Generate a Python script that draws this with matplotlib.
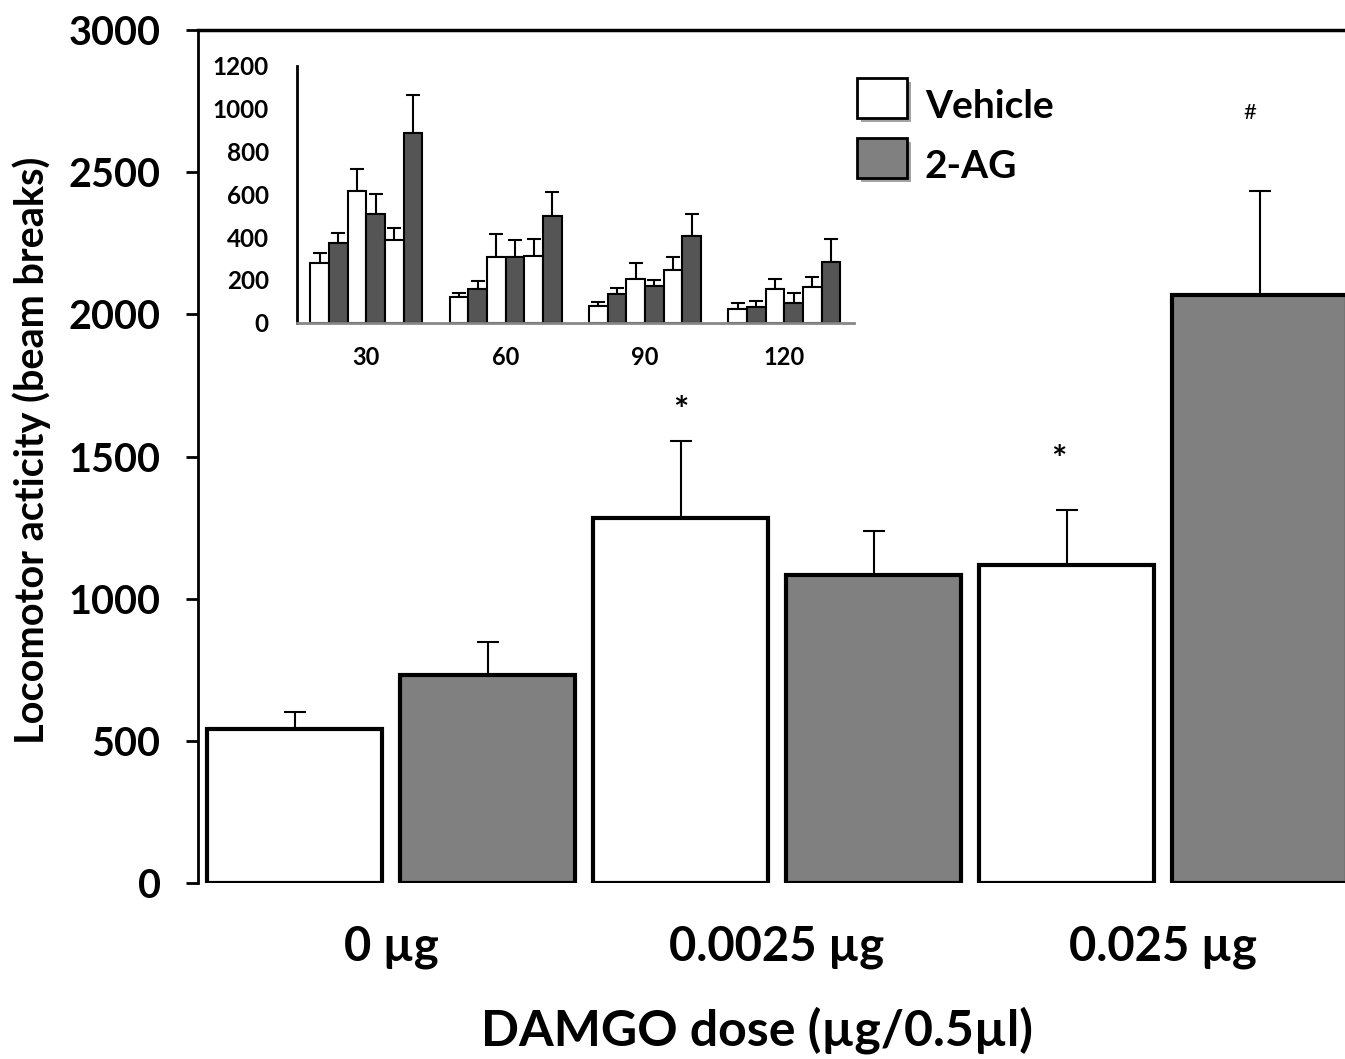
import matplotlib
matplotlib.use("Agg")
import matplotlib.pyplot as plt
import matplotlib.patheffects as pe
from matplotlib.patches import Rectangle
import numpy as np

plt.rcParams['font.family'] = ['Lato', 'DejaVu Sans']
plt.rcParams['font.weight'] = 'bold'

# ---- data: main chart ----
doses = ["0 µg", "0.0025 µg", "0.025 µg"]
vehicle_mean = [542, 1284, 1118]
vehicle_err = [59, 271, 194]
ag_mean = [732, 1083, 2068]
ag_err = [116, 155, 366]
markers = ["", "", "*", "", "*", "#"]  # per bar order V,A,V,A,V,A
marker_y = [0, 0, 1657, 0, 1485, 2707]

# ---- data: inset (time bins, six bars per bin: V,A,V,A,V,A for the three doses) ----
time_bins = ["30", "60", "90", "120"]
inset_means = [
    [277, 370, 616, 507, 386, 884],
    [121, 156, 305, 308, 311, 498],
    [78, 132, 202, 173, 246, 405],
    [62, 72, 156, 90, 168, 285],
]
inset_errs = [
    [47, 47, 100, 92, 54, 179],
    [16, 40, 109, 78, 81, 114],
    [17, 30, 75, 26, 59, 104],
    [28, 31, 46, 50, 47, 106],
]

WHITE = "#ffffff"
GRAY = "#808080"
DARK = "#555555"

fig = plt.figure(figsize=(13.45, 10.59), dpi=100)

# ---- main axes ----
ax = fig.add_axes([198/1345, 1-883/1059, 1-198/1345, (883-30)/1059])
means, errs, cols = [], [], []
for v, ve, a, ae in zip(vehicle_mean, vehicle_err, ag_mean, ag_err):
    means += [v, a]
    errs += [ve, ae]
    cols += [WHITE, GRAY]
x = np.arange(len(means))
ax.bar(x, means, width=0.91, color=cols, edgecolor="black", linewidth=3, zorder=2)
ax.errorbar(x, means, yerr=[np.zeros(len(errs)), errs], fmt="none", ecolor="black",
            elinewidth=1.5, capsize=8, capthick=1.5, zorder=1)
for xi, my, s in zip(x, marker_y, markers):
    if s == "*":
        ax.text(xi - (0.04 if xi == 4 else 0), my, s, ha="center", va="center",
                fontsize=26, fontweight="bold")
    elif s == "#":
        ax.text(xi - 0.05, my, s, ha="center", va="center", fontsize=16, fontweight="normal")

ax.set_xlim(-0.5, 5.443)
ax.set_ylim(0, 3000)
ax.set_yticks([0, 500, 1000, 1500, 2000, 2500, 3000])
ax.set_xticks([0.5, 2.5, 4.5])
ax.set_xticklabels(doses, fontsize=34, fontweight="bold")
ax.tick_params(axis="x", length=0, pad=30)
ax.tick_params(axis="y", length=9, width=2, labelsize=28.5, pad=18)
for lab in ax.get_yticklabels():
    lab.set_fontweight("bold")
ax.spines["right"].set_visible(False)
ax.spines["bottom"].set_visible(False)
ax.spines["left"].set_linewidth(2)
ax.spines["top"].set_linewidth(2.5)
fig.text(32/1345, 1-450/1059, "Locomotor acticity (beam breaks)", rotation=90,
         fontsize=28.5, fontweight="bold", ha="center", va="center")
fig.text(757/1345, 1-1030/1059, "DAMGO dose (µg/0.5µl)", fontsize=36,
         fontweight="bold", ha="center", va="center")

# ---- legend (manual) ----
for (y0, col, lab) in [(78, WHITE, "Vehicle"), (138, GRAY, "2-AG")]:
    r = Rectangle((857/1345, 1-(y0+40)/1059), 50/1345, 40/1059, transform=fig.transFigure,
                  facecolor=col, edgecolor="black", linewidth=2,
                  path_effects=[pe.SimplePatchShadow(offset=(3, -3), shadow_rgbFace="0.4", alpha=0.6), pe.Normal()])
    fig.add_artist(r)
    fig.text(925/1345, 1-(y0+29)/1059, lab, fontsize=28, fontweight="bold", va="center", ha="left")

# ---- inset ----
ia = fig.add_axes([296.6/1345, 1-322.7/1059, (854-296.6)/1345, (322.7-65.7)/1059])
bw = 0.134
ic = [WHITE, DARK] * 3
for g, (ms, es) in enumerate(zip(inset_means, inset_errs)):
    pos = g + (np.arange(6) - 2.5) * bw
    ia.bar(pos, ms, width=bw, color=ic, edgecolor="black", linewidth=1.5, zorder=2)
    ia.errorbar(pos, ms, yerr=[np.zeros(6), es], fmt="none", ecolor="black",
                elinewidth=1.5, capsize=5, capthick=1.5, zorder=1)
ia.set_xlim(-0.5, 3.5)
ia.set_ylim(0, 1200)
ia.set_yticks(range(0, 1201, 200))
ia.set_xticks(range(4))
ia.set_xticklabels(time_bins, fontsize=17, fontweight="bold")
ia.tick_params(axis="y", length=0, labelsize=17.5, pad=20)
ia.tick_params(axis="x", length=0, pad=17)
for lab in ia.get_yticklabels():
    lab.set_fontweight("bold")
ia.spines["right"].set_visible(False)
ia.spines["top"].set_visible(False)
ia.spines["left"].set_linewidth(2)
ia.spines["bottom"].set_linewidth(2)
ia.spines["bottom"].set_color("#888888")
ia.patch.set_alpha(0)

fig.savefig("out.png", dpi=100)
